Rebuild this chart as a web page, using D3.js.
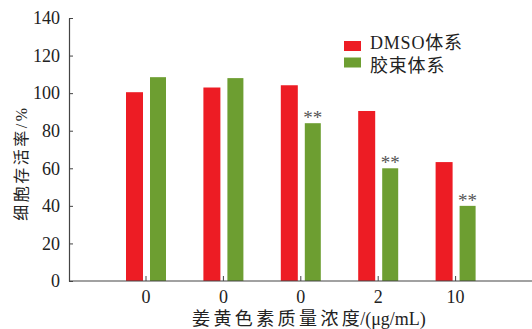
<!DOCTYPE html>
<html><head><meta charset="utf-8">
<script src="https://cdn.jsdelivr.net/npm/d3@7"></script>
<style>body{margin:0;background:#fff;}svg{display:block;font-family:"Liberation Serif","Noto Sans CJK SC",serif;}</style>
</head><body><svg id="c" width="532" height="329"></svg>
<script>
const categories = ["0","0","0","2","10"];
const dmso = [100.5, 103, 104.2, 90.5, 63.3];
const micelle = [108.5, 108, 84, 60, 40];
const marks = ["", "", "**", "**", "**"];
const yTicks = [0,20,40,60,80,100,120,140];
const seriesNames = ["DMSO体系","胶束体系"];
const colors = ["#ED1C24","#6D9E31"];

const svg = d3.select("#c");
const x0 = 69, y0 = 281, yTop = 18;
const y = d3.scaleLinear().domain([0,140]).range([y0, yTop]);
const x = d3.scaleBand().domain(d3.range(categories.length)).range([107.3, 494.3]).padding(0);
const axisColor = "#444";

// bars
const g = svg.append("g");
categories.forEach((c,i)=>{
  const cx = x(i) + x.bandwidth()/2;
  g.append("rect").attr("x", cx-20).attr("width",17)
    .attr("y", y(dmso[i])).attr("height", y0 - y(dmso[i])).attr("fill", colors[0]);
  g.append("rect").attr("x", cx+4).attr("width",16)
    .attr("y", y(micelle[i])).attr("height", y0 - y(micelle[i])).attr("fill", colors[1]);
  if (marks[i]) {
    g.append("text").attr("x", cx+12).attr("y", y(micelle[i]) + 1)
      .attr("text-anchor","middle").attr("font-size",19).attr("fill","#555").text(marks[i]);
  }
});

// y axis
const ya = d3.axisLeft(y).tickValues(yTicks).tickSizeInner(-4).tickSizeOuter(0).tickPadding(9);
const yg = svg.append("g").attr("transform",`translate(${x0},0)`).call(ya);
yg.select(".domain").attr("stroke",axisColor).attr("stroke-width",1.2);
yg.selectAll(".tick line").attr("stroke",axisColor);
yg.selectAll("text").attr("font-size",18).attr("fill","#222").attr("font-family","Liberation Serif");

// x axis
const xa = d3.axisBottom(x).tickFormat(i=>categories[i]).tickSizeInner(-5).tickSizeOuter(0).tickPadding(9);
const xg = svg.append("g").attr("transform",`translate(0,${y0})`).call(xa);
xg.select(".domain").remove();
xg.append("line").attr("x1",x0).attr("x2",532).attr("stroke",axisColor).attr("stroke-width",1.2);
xg.selectAll(".tick line").attr("stroke",axisColor);
xg.selectAll("text").attr("font-size",18).attr("fill","#222").attr("font-family","Liberation Serif");

// titles
const xt = svg.append("text").attr("x",192).attr("y",325).attr("font-size",18).attr("fill","#222");
xt.append("tspan").attr("letter-spacing",3.4).text("姜黄色素质量浓度");
xt.append("tspan").attr("dx",-3).text("/(μg/mL)");
svg.append("text").attr("transform","translate(27,163) rotate(-90)").attr("text-anchor","middle")
  .attr("font-size",16).attr("letter-spacing",2.5).attr("fill","#222").text("细胞存活率/%");

// legend
seriesNames.forEach((n,i)=>{
  svg.append("rect").attr("x",344).attr("y",41+i*16.5).attr("width",17).attr("height",10).attr("fill",colors[i]);
  svg.append("text").attr("x",370).attr("y",49+i*23).attr("font-size",18).attr("letter-spacing",0.8).attr("fill","#222").text(n);
});
</script></body></html>
